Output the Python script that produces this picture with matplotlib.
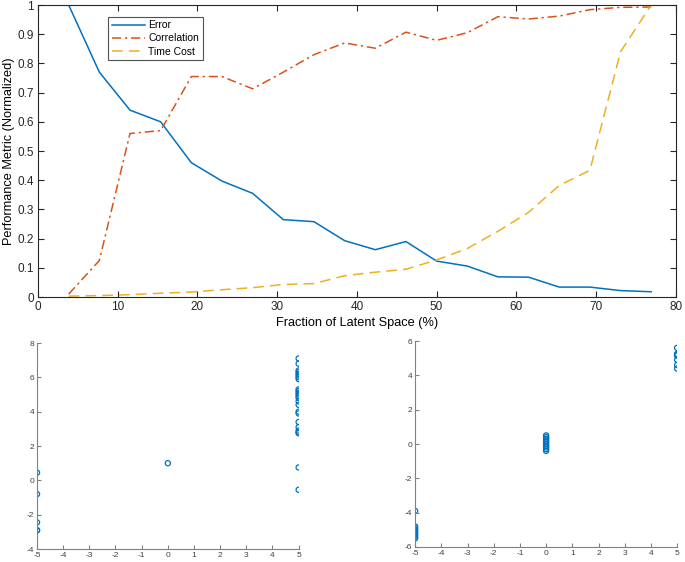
import matplotlib
matplotlib.use("Agg")
import matplotlib.pyplot as plt
import numpy as np

plt.rcParams["font.family"] = ["Liberation Sans", "DejaVu Sans"]
plt.rcParams["axes.unicode_minus"] = False

# top panel: metrics vs fraction of latent space
fraction = np.arange(1, 21) / 26 * 100
error = [1.0, 0.77, 0.64, 0.60, 0.46, 0.397, 0.355, 0.265, 0.258, 0.193,
         0.162, 0.19, 0.123, 0.106, 0.069, 0.068, 0.034, 0.034, 0.022, 0.018]
correlation = [0.01, 0.125, 0.56, 0.57, 0.755, 0.755, 0.713, 0.77, 0.83, 0.87,
               0.852, 0.907, 0.879, 0.905, 0.96, 0.952, 0.962, 0.984, 0.992, 0.993]
time_cost = [0.003, 0.005, 0.008, 0.013, 0.017, 0.025, 0.032, 0.043, 0.046, 0.073,
             0.085, 0.095, 0.127, 0.166, 0.225, 0.29, 0.382, 0.434, 0.84, 1.0]

# bottom-left scatter
left_x = [-5] * 5 + [0] + [5] * 25
left_y = [0.45, -0.8, -2.45, -2.9, -2.92,
          1.0,
          7.1, 6.8, 6.4, 6.3, 6.2, 6.1, 6.0, 5.9, 5.3, 5.2, 5.1, 5.0, 4.9,
          4.8, 4.6, 4.4, 4.0, 3.9, 3.4, 3.1, 2.9, 2.8, 2.75, 0.75, -0.55]

# bottom-right scatter
right_x = [-5] * 9 + [0] * 10 + [5] * 7
right_y = [-3.9, -4.8, -4.9, -5.0, -5.1, -5.2, -5.3, -5.4, -5.5,
           0.5, 0.4, 0.3, 0.2, 0.1, 0.0, -0.1, -0.2, -0.3, -0.4,
           5.6, 5.25, 5.2, 5.15, 4.9, 4.6, 4.4]

BLUE = "#0072BD"
ORANGE = "#D95319"
YELLOW = "#EDB120"

fig = plt.figure(figsize=(6.85, 5.62), dpi=100)

ax = fig.add_axes([0.0555, 0.4715, 0.931, 0.5196])
ax.plot(fraction, error, color=BLUE, lw=1.1, label="Error")
ax.plot(fraction, correlation, color=ORANGE, lw=1.1, ls=(0, (6, 2.5, 1.5, 2.5)),
        label="Correlation")
ax.plot(fraction, time_cost, color=YELLOW, lw=1.1, ls=(0, (7, 4)), label="Time Cost")
ax.set_xlim(0, 80)
ax.set_ylim(0, 1)
ax.set_xticks(np.arange(0, 81, 10))
ax.set_yticks(np.arange(0, 1.01, 0.1))
ax.set_yticklabels(["0"] + [f"{v:.1f}" for v in np.arange(0.1, 0.95, 0.1)] + ["1"])
ax.tick_params(direction="in", top=True, right=True, labelsize=8.5, length=4,
               colors="#262626", pad=3)
for s in ax.spines.values():
    s.set_color("#262626")
ax.set_xlabel("Fraction of Latent Space (%)", fontsize=9.2, labelpad=3)
ax.set_ylabel("Performance Metric (Normalized)", fontsize=9.2, labelpad=2)
leg = ax.legend(loc="upper left", bbox_to_anchor=(0.11, 0.96), fontsize=7.5,
                frameon=True, fancybox=False, borderpad=0.35, labelspacing=0.3,
                handlelength=3.2, handletextpad=0.3, borderaxespad=0)
leg.get_frame().set_edgecolor("#262626")
leg.get_frame().set_linewidth(0.8)


def scatter_panel(rect, xs, ys, ylim, yticks):
    a = fig.add_axes(rect)
    a.scatter(xs, ys, s=14, facecolors="none", edgecolors=BLUE, linewidths=0.9)
    a.set_xlim(-5, 5)
    a.set_ylim(*ylim)
    a.set_xticks(np.arange(-5, 6, 1))
    a.set_yticks(yticks)
    a.spines["top"].set_visible(False)
    a.spines["right"].set_visible(False)
    for s in ("left", "bottom"):
        a.spines[s].set_color("#808080")
        a.spines[s].set_linewidth(0.8)
    a.tick_params(direction="in", labelsize=6, length=3, colors="#808080",
                  labelcolor="#404040", pad=2)
    return a


scatter_panel([0.054, 0.0231, 0.382, 0.3665], left_x, left_y, (-4, 8),
              np.arange(-4, 9, 2))
scatter_panel([0.606, 0.0267, 0.3825, 0.3665], right_x, right_y, (-6, 6),
              np.arange(-6, 7, 2))

fig.savefig("out.png", dpi=100)
